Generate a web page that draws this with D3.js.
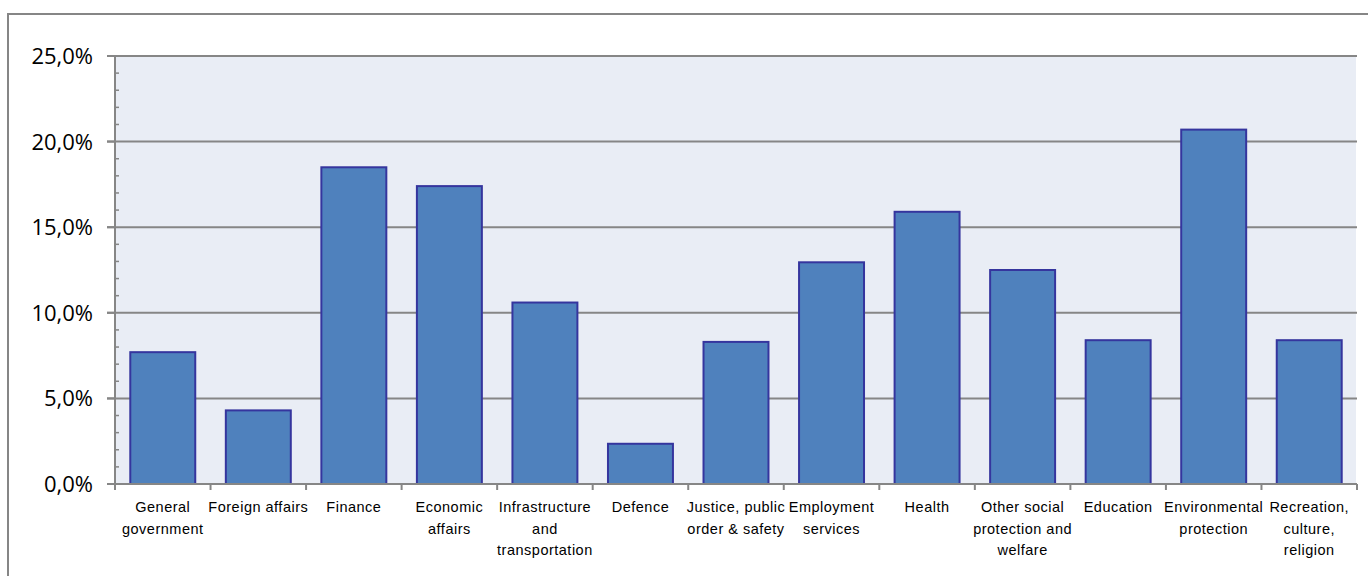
<!DOCTYPE html>
<html><head><meta charset="utf-8">
<script src="https://cdn.jsdelivr.net/npm/d3@7"></script>
<style>
html,body{margin:0;padding:0;background:#fff;overflow:hidden;}
svg{display:block;}
</style></head>
<body>
<script>
const categories = ["General\ngovernment","Foreign affairs","Finance","Economic\naffairs","Infrastructure\nand\ntransportation","Defence","Justice, public\norder & safety","Employment\nservices","Health","Other social\nprotection and\nwelfare","Education","Environmental\nprotection","Recreation,\nculture,\nreligion"];
const values = [7.7, 4.3, 18.5, 17.4, 10.6, 2.35, 8.3, 12.95, 15.9, 12.5, 8.4, 20.7, 8.4];
const yTicks = [0, 5, 10, 15, 20, 25];

const W = 1368, H = 576;
const svg = d3.select("body").append("svg").attr("width", W).attr("height", H);

// outer frame
svg.append("rect").attr("x", 8).attr("y", 14).attr("width", W).attr("height", H)
  .attr("fill", "#fff").attr("stroke", "#868686").attr("stroke-width", 2);

const L = 115, R = 1357, T = 56, B = 484;
const x = d3.scaleBand().domain(categories).range([L, R]).paddingInner(0.32).paddingOuter(0.16);
const y = d3.scaleLinear().domain([0, 25]).range([B, T]);

// plot background
svg.append("rect").attr("x", L).attr("y", T).attr("width", R - L - 1).attr("height", B - T)
  .attr("fill", "#e9edf5");

// gridlines
svg.append("g").selectAll("line").data(yTicks.filter(d => d > 0)).join("line")
  .attr("x1", L - 8).attr("x2", R).attr("y1", d => y(d)).attr("y2", d => y(d))
  .attr("stroke", "#868686").attr("stroke-width", 2);

// bars
svg.append("g").selectAll("rect").data(values).join("rect")
  .attr("x", (d, i) => x(categories[i]))
  .attr("y", d => y(d))
  .attr("width", x.bandwidth())
  .attr("height", d => B - y(d))
  .attr("fill", "#4f81bd").attr("stroke", "#35359e").attr("stroke-width", 2);

// y axis
const yAxis = svg.append("g");
yAxis.append("line").attr("x1", L).attr("x2", L).attr("y1", T).attr("y2", B + 1)
  .attr("stroke", "#868686").attr("stroke-width", 2);
const minor = d3.range(0, 25.01, 1).filter(v => v % 5 !== 0);
yAxis.selectAll("line.minor").data(minor).join("line").attr("class", "minor")
  .attr("x1", L - 1).attr("x2", L + 4).attr("y1", d => y(d)).attr("y2", d => y(d))
  .attr("stroke", "#868686").attr("stroke-width", 1.5);
yAxis.selectAll("line.major").data(yTicks).join("line").attr("class", "major")
  .attr("x1", L - 8).attr("x2", L).attr("y1", d => y(d)).attr("y2", d => y(d))
  .attr("stroke", "#868686").attr("stroke-width", 2);
const fmt = v => v.toFixed(1).replace(".", ",") + "%";
yAxis.selectAll("text").data(yTicks).join("text")
  .attr("x", 93).attr("y", d => y(d)).attr("dy", "0.36em")
  .attr("text-anchor", "end")
  .attr("font-family", "'Open Sans', 'Liberation Sans', sans-serif").attr("font-size", 22)
  .attr("fill", "#000").text(fmt);

// x axis
const xAxis = svg.append("g");
xAxis.append("line").attr("x1", L).attr("x2", R).attr("y1", B).attr("y2", B)
  .attr("stroke", "#868686").attr("stroke-width", 2);
const bounds = d3.range(categories.length + 1).map(i => L + i * x.step());
xAxis.selectAll("line.tick").data(bounds).join("line").attr("class", "tick")
  .attr("x1", d => d).attr("x2", d => d).attr("y1", B).attr("y2", B + 6)
  .attr("stroke", "#868686").attr("stroke-width", 2);
const lbl = xAxis.selectAll("text").data(categories).join("text")
  .attr("x", d => x(d) + x.bandwidth() / 2)
  .attr("y", 512)
  .attr("text-anchor", "middle")
  .attr("font-family", "'Liberation Sans', Arial, sans-serif").attr("font-size", 14.5)
  .attr("letter-spacing", 0.5)
  .attr("fill", "#000");
lbl.each(function(d) {
  const t = d3.select(this);
  d.split("\n").forEach((line, i) => {
    t.append("tspan").attr("x", x(d) + x.bandwidth() / 2).attr("dy", i === 0 ? 0 : 21.7).text(line);
  });
});
</script>
</body></html>
